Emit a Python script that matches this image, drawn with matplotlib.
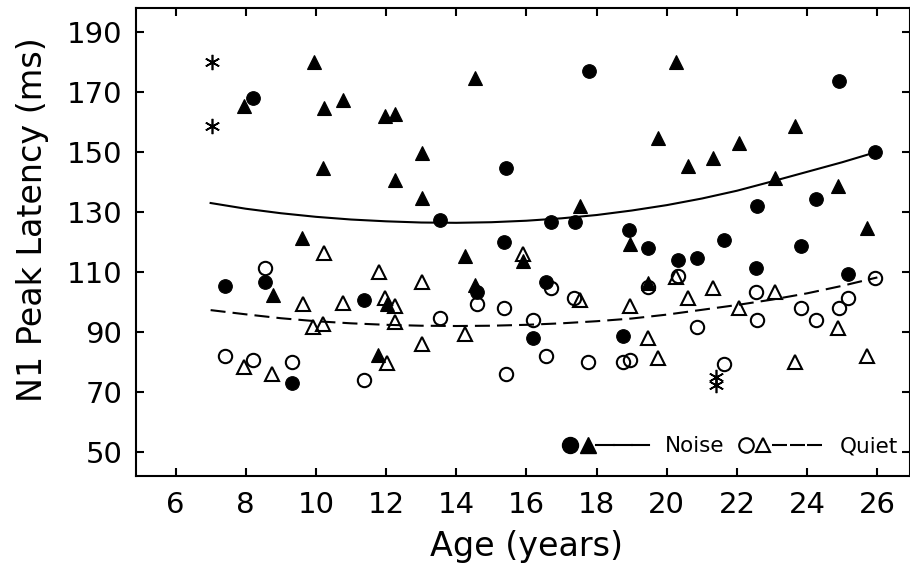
import matplotlib
matplotlib.use("Agg")
import matplotlib.pyplot as plt
from matplotlib.lines import Line2D
from matplotlib.legend_handler import HandlerTuple

# noise condition, filled circles
noise_circ_age = [7.41, 8.22, 8.55, 9.31, 11.37, 13.53, 14.58, 15.37, 15.43, 16.18,
                  16.55, 16.71, 17.37, 17.77, 18.76, 18.93, 19.47, 20.32, 20.87, 21.64,
                  22.53, 22.58, 23.83, 24.25, 24.91, 25.15, 25.94]
noise_circ_lat = [105.4, 168.2, 106.8, 73.2, 100.8, 127.4, 103.4, 120.1, 144.9, 88.0,
                  106.9, 126.8, 126.8, 177.0, 88.8, 124.1, 118.2, 114.0, 114.8, 120.8,
                  111.3, 132.2, 118.8, 134.3, 173.7, 109.5, 150.2]

# noise condition, filled triangles
noise_tri_age = [7.95, 8.77, 9.61, 9.95, 10.19, 10.24, 10.76, 11.78, 11.98, 12.03,
                 12.25, 12.25, 13.01, 13.01, 14.26, 14.53, 14.53, 15.89, 17.52, 18.95,
                 19.47, 19.75, 20.25, 20.59, 21.31, 22.06, 23.08, 23.65, 24.89, 25.71]
noise_tri_lat = [165.4, 102.4, 121.3, 180.2, 144.7, 164.7, 167.4, 82.4, 162.1, 99.6,
                 162.8, 140.8, 149.7, 134.9, 115.4, 174.9, 105.8, 113.9, 132.2, 119.4,
                 106.3, 154.9, 180.2, 145.5, 148.0, 153.2, 141.3, 158.8, 138.8, 124.7]

# quiet condition, open circles
quiet_circ_age = [7.41, 8.22, 8.55, 9.31, 11.37, 13.53, 14.58, 15.37, 15.43, 16.18,
                  16.55, 16.70, 17.36, 17.76, 18.74, 18.95, 19.45, 20.31, 20.87, 21.64,
                  22.53, 22.58, 23.83, 24.25, 24.91, 25.15, 25.94]
quiet_circ_lat = [82.1, 80.8, 111.3, 80.0, 74.1, 94.7, 99.6, 98.0, 76.0, 94.1,
                  82.1, 104.7, 101.5, 80.0, 80.0, 80.8, 105.2, 108.9, 91.9, 79.3,
                  103.3, 94.1, 98.0, 94.1, 98.0, 101.3, 108.2]

# quiet condition, open triangles
quiet_tri_age = [7.95, 8.76, 9.62, 9.93, 10.19, 10.24, 10.76, 11.81, 11.97, 12.03,
                 12.25, 12.25, 13.01, 13.01, 14.26, 15.89, 17.52, 18.95, 19.45, 19.75,
                 20.26, 20.59, 21.31, 22.06, 23.08, 23.65, 24.89, 25.71]
quiet_tri_lat = [78.5, 76.0, 99.3, 91.7, 92.7, 116.5, 99.9, 110.0, 101.3, 79.9,
                 98.8, 93.5, 106.9, 86.0, 89.3, 116.1, 100.8, 98.7, 88.0, 81.3,
                 108.6, 101.3, 104.7, 98.0, 103.5, 80.0, 91.5, 82.1]

# excluded points (asterisks)
star_age = [7.03, 7.03, 21.4, 21.4]
star_lat = [180.2, 158.8, 75.2, 72.4]

# fitted trend lines
fit_age = [7, 8, 9, 10, 11, 12, 13, 14, 15, 16, 17, 18, 19, 20, 21, 22, 23, 24, 25, 26]
fit_noise = [133.1, 131.2, 129.7, 128.5, 127.6, 127.0, 126.6, 126.5, 126.7, 127.2,
             128.0, 129.1, 130.6, 132.4, 134.6, 137.2, 140.3, 143.5, 146.7, 150.2]
fit_quiet = [97.4, 96.0, 94.7, 93.7, 93.0, 92.5, 92.2, 92.1, 92.2, 92.5,
             93.0, 93.7, 94.6, 95.9, 97.5, 99.1, 100.9, 103.0, 105.5, 108.3]

xticks = list(range(6, 27, 2))
yticks = list(range(50, 191, 20))

plt.rcParams['font.family'] = ['DejaVu Sans']

fig = plt.figure(figsize=(9.1, 5.65), dpi=100)
ax = fig.add_axes([0.1495, 0.1575, 0.8505, 0.8283])

lw = 1.5
dash = (0, (7.2, 3.4))
ax.plot(fit_age, fit_noise, color='k', lw=lw)
ax.plot(fit_age, fit_quiet, color='k', lw=lw, linestyle=dash)

ax.plot(noise_circ_age, noise_circ_lat, ls='none', marker='o', ms=9.8,
        mfc='k', mec='k', mew=0.8)
ax.plot(noise_tri_age, noise_tri_lat, ls='none', marker='^', ms=9.8,
        mfc='k', mec='k', mew=0.8)
ax.plot(quiet_circ_age, quiet_circ_lat, ls='none', marker='o', ms=9.6,
        mfc='none', mec='k', mew=1.5)
ax.plot(quiet_tri_age, quiet_tri_lat, ls='none', marker='^', ms=9.8,
        mfc='none', mec='k', mew=1.5)
ax.plot(star_age, star_lat, ls='none', marker=(6, 2, 0), ms=11, mec='k', mew=1.2)

ax.set_xlim(4.875, 26.93)
ax.set_ylim(42.1, 198.1)
ax.set_xticks(xticks)
ax.set_yticks(yticks)
ax.tick_params(direction='in', length=6, width=1.5, top=True, right=True,
               labelsize=21)
ax.tick_params(axis='y', pad=10)
ax.tick_params(axis='x', pad=11)
for sp in ax.spines.values():
    sp.set_linewidth(1.5)

ax.set_xlabel("Age (years)", fontsize=24, va='center')
ax.xaxis.set_label_coords(0.505, -0.15)
ax.set_ylabel("N1 Peak Latency (ms)", fontsize=24, va='center')
ax.yaxis.set_label_coords(-0.134, 0.547)

# legend: marker pair + line for each condition
h_nc = Line2D([], [], ls='none', marker='o', ms=11.5, mfc='k', mec='k')
h_nt = Line2D([], [], ls='none', marker='^', ms=11.5, mfc='k', mec='k')
h_nl = Line2D([], [], color='k', lw=lw)
h_qc = Line2D([], [], ls='none', marker='o', ms=10.5, mfc='none', mec='k', mew=1.5)
h_qt = Line2D([], [], ls='none', marker='^', ms=10.5, mfc='none', mec='k', mew=1.5)
h_ql = Line2D([], [], color='k', lw=lw, linestyle=dash)
ax.legend([(h_nc, h_nt, h_nl, h_nl, h_nl), (h_qc, h_qt, h_ql, h_ql, h_ql)],
          ['Noise', 'Quiet'],
          handler_map={tuple: HandlerTuple(ndivide=None, pad=0)},
          ncol=2, frameon=False, fontsize=15.5, handlelength=4.1,
          handletextpad=0.7, columnspacing=0.6, loc='center right',
          bbox_to_anchor=(0.985, 0.064), borderaxespad=0, borderpad=0)

fig.savefig("out.png", dpi=100)
